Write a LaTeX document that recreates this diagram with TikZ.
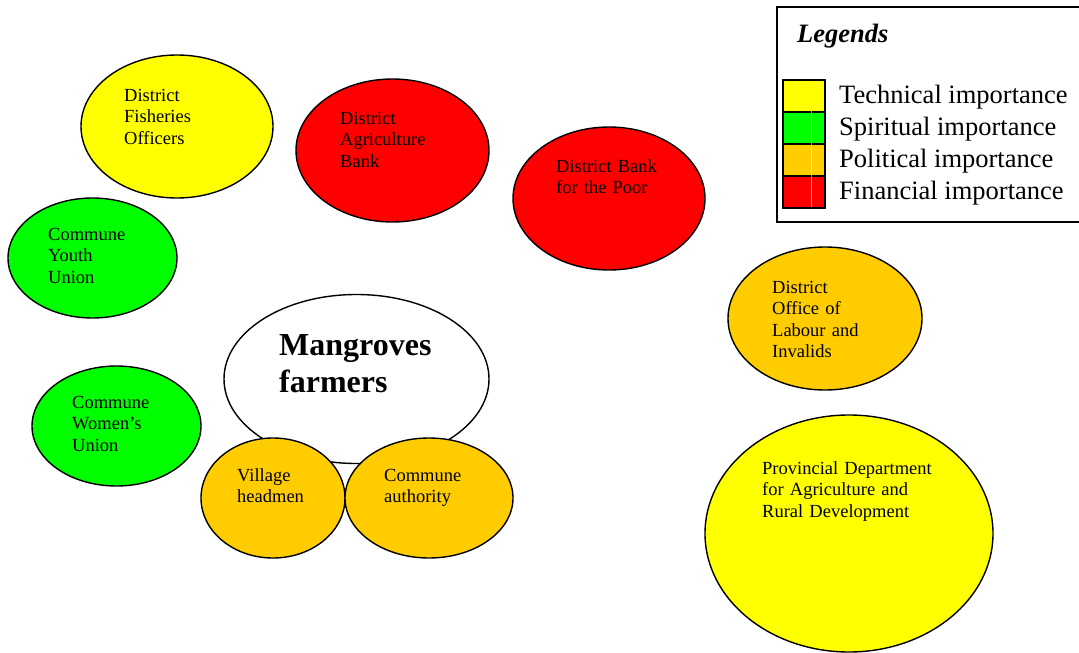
\documentclass[tikz,border=0pt]{standalone}
\usepackage{fontspec}
\setmainfont{Liberation Serif}
\usetikzlibrary{shapes.geometric}
\definecolor{techY}{HTML}{FFFF00}
\definecolor{spirG}{HTML}{00FF00}
\definecolor{polO}{HTML}{FFCC00}
\definecolor{finR}{HTML}{FF0000}
\begin{document}
\begin{tikzpicture}[x=1pt,y=-1pt,
  blob/.style={ellipse, draw=black, line width=1.4pt, inner sep=0pt},
  lbl/.style={anchor=base west, inner sep=0pt, align=left, text width=#1,
    font=\fontsize{18.5}{21.5}\selectfont},
  leg/.style={anchor=base west, inner sep=0pt, font=\fontsize{26.5}{32}\selectfont},
  swatch/.style={draw=black, line width=1.4pt, minimum width=42pt, minimum height=32pt, inner sep=0pt}]
\path[use as bounding box] (0,0) rectangle (1079,653);
\clip (0,0) rectangle (1079,653);
% ellipses
\node[blob, fill=techY, minimum width=192pt, minimum height=143pt] (fish) at (177,126.5) {};
\node[blob, fill=finR, minimum width=193pt, minimum height=143pt] (agri) at (392.5,150.5) {};
\node[blob, fill=finR, minimum width=192pt, minimum height=143pt] (poor) at (609,198.5) {};
\node[blob, fill=spirG, minimum width=169pt, minimum height=120pt] (youth) at (92.5,258) {};
\node[blob, fill=polO, minimum width=194pt, minimum height=143pt] (labour) at (825,318.5) {};
\node[blob, fill=white, minimum width=265pt, minimum height=169pt] (mang) at (356.5,379) {};
\node[blob, fill=spirG, minimum width=169pt, minimum height=120pt] (women) at (116.5,426) {};
\node[blob, fill=polO, minimum width=144pt, minimum height=120pt] (village) at (273,498) {};
\node[blob, fill=polO, minimum width=168pt, minimum height=120pt] (commune) at (429,498) {};
\node[blob, fill=techY, minimum width=288pt, minimum height=237pt] (prov) at (849,533.5) {};
% labels
\node[lbl=150pt] (fishT) at (124,101) {District\\Fisheries\\Officers};
\node[lbl=150pt] (agriT) at (340,124) {District\\Agriculture\\Bank};
\node[lbl=150pt] (poorT) at (556,172) {District Bank\\for the Poor};
\node[lbl=150pt] (youthT) at (48,240) {Commune\\Youth\\Union};
\node[lbl=150pt] (labourT) at (772,293) {District\\Office of\\Labour and\\Invalids};
\node[anchor=base west, inner sep=0pt, align=left, text width=200pt,
  font=\fontsize{32}{37}\selectfont\bfseries] (mangT) at (279,355) {Mangroves\\farmers};
\node[lbl=150pt] (womenT) at (72,408) {Commune\\Women’s\\Union};
\node[lbl=150pt] (villageT) at (237,481) {Village\\headmen};
\node[lbl=150pt] (communeT) at (384,481) {Commune\\authority};
\node[lbl=250pt] (provT) at (762,474) {Provincial Department\\for Agriculture and\\Rural Development};
% legend
\draw[line width=2pt] (777,7) rectangle (1095,222);
\node[leg, font=\fontsize{26.5}{32}\selectfont\bfseries\itshape] (legT) at (797,42) {Legends};
\node[swatch, fill=techY] (s1) at (804,96) {};
\node[swatch, fill=spirG] (s2) at (804,128) {};
\node[swatch, fill=polO] (s3) at (804,160) {};
\node[swatch, fill=finR] (s4) at (804,192) {};
\path (s1.north) ++(7,1.5) coordinate (wl1);
\path (s4.south) ++(7,-1.5) coordinate (wl2);
\draw[white, line width=0.5pt, opacity=0.6] (wl1) -- (wl2);
\node[leg] (l1) at (839,103) {Technical importance};
\node[leg] (l2) at (839,135) {Spiritual importance};
\node[leg] (l3) at (839,167) {Political importance};
\node[leg] (l4) at (839,199) {Financial importance};
\end{tikzpicture}
\end{document}
